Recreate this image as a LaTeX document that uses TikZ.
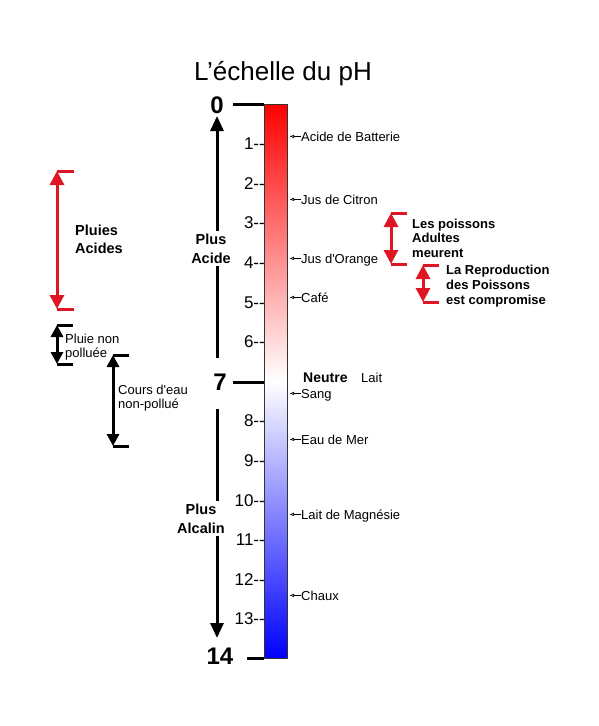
\documentclass[tikz,border=0pt]{standalone}
\usepackage{fontspec}
\setmainfont{Liberation Sans}
\newfontfamily\straight{Liberation Sans}
\usetikzlibrary{arrows.meta}
\definecolor{myred}{RGB}{222,22,35}
\begin{document}
\begin{tikzpicture}[x=1pt,y=-1pt,
  lbl/.style={anchor=base west,inner sep=0pt,font=\fontsize{13}{15}\selectfont},
  num/.style={anchor=base east,inner sep=0pt,font=\fontsize{17}{19}\selectfont},
  big/.style={inner sep=0pt,font=\fontsize{24}{26}\selectfont\bfseries},
  blk/.style={inner sep=0pt,anchor=north west,align=left},
  ptr/.style={-{Latex[open,length=4.5pt,width=3.5pt]},line width=0.6pt},
  tickline/.style={line width=3pt},
  bigarrow/.style={line width=3pt,-{Triangle[length=15pt,width=13pt]}},
  brk/.style={line width=3pt,{Triangle[length=12pt,width=12pt]}-{Triangle[length=12pt,width=12pt]}},
  redbrk/.style={line width=3pt,myred,{Triangle[length=14pt,width=14pt]}-{Triangle[length=14pt,width=14pt]}},
  capline/.style={line width=3pt},
  gap/.style={fill=white,inner sep=3pt,align=center,font=\fontsize{14.5}{19}\selectfont\bfseries}
]
\useasboundingbox (0,0) rectangle (599,726);

% title
\node[anchor=base,inner sep=0pt,font=\fontsize{26}{28}\selectfont] (title) at (283,80) {L’échelle du pH};

% bar
\shade[top color=red,bottom color=white] (264,104) rectangle (287,381);
\shade[top color=white,bottom color=blue] (264,381) rectangle (287,658);
\draw[line width=0.8pt,black!80] (264,104) rectangle (287,658);
\coordinate (b0) at (264,104);
\coordinate (b7) at (264,382);
\coordinate (b14) at (264,658);

% main values
\node[big] (n0) at (217,105) {0};
\node[big] (n7) at (220,382) {7};
\node[big] (n14) at (220,656) {14};
\coordinate (t0) at (233,104);
\coordinate (t7) at (233,382);
\coordinate (t14) at (247,658);
\draw[tickline] (t0) -- (b0);
\draw[tickline] (t7) -- (b7);
\draw[tickline] (t14) -- (b14);

% tick numbers
\foreach \n in {1,2,3,4,5,6,8,9,10,11,12,13}{
  \pgfmathsetmacro{\yy}{104+39.6*\n+6}
  \node[num] (tk\n) at (265,\yy) {\n-{}-};
}

% big arrows
\coordinate (ua) at (217,358);
\coordinate (ub) at (217,116);
\draw[bigarrow] (ua) -- (ub);
\node[gap] (acide) at (211,248.5) {Plus\\Acide};
\coordinate (da) at (217,409);
\coordinate (db) at (217,638);
\draw[bigarrow] (da) -- (db);
\node[gap] (alcalin) at (201,518.5) {Plus\\Alcalin};

% right labels
\foreach \nm/\yy/\txt in {bat/141/Acide de Batterie, cit/204/Jus de Citron, ora/263/{\straight Jus d'Orange}, caf/302/Café, san/398/Sang, mer/444/Eau de Mer, mag/519/Lait de Magnésie, cha/600/Chaux}{
  \node[lbl] (\nm) at (301,\yy) {\txt};
  \draw[ptr] (\nm.base west) ++(0,-4.6) coordinate (\nm s) -- ++(-11.5,0) coordinate (\nm e);
}
\node[lbl,font=\fontsize{14}{16}\selectfont\bfseries] (neutre) at (303,382) {Neutre};
\node[lbl] (lait) at (361,382) {Lait};

% red bracket: Pluies Acides
\coordinate (pa1) at (57,171);
\coordinate (pa2) at (57,309);
\draw[redbrk] (pa2) -- (pa1);
\draw[capline,myred] (pa1) -- ++(17,0);
\draw[capline,myred] (pa2) -- ++(17,0);
\node[blk,font=\fontsize{14.5}{18}\selectfont\bfseries] (pluies) at (75,224.5) {Pluies\\Acides};

% Pluie non polluee
\coordinate (pn1) at (57,325);
\coordinate (pn2) at (57,364);
\draw[brk] (pn2) -- (pn1);
\draw[capline] (pn1) -- ++(16,0);
\draw[capline] (pn2) -- ++(16,0);
\node[blk,font=\fontsize{13}{14}\selectfont] (pluie) at (65,333.5) {Pluie non\\polluée};

% Cours d'eau
\coordinate (ce1) at (113,355);
\coordinate (ce2) at (113,446);
\draw[brk] (ce2) -- (ce1);
\draw[capline] (ce1) -- ++(16,0);
\draw[capline] (ce2) -- ++(16,0);
\node[blk,font=\fontsize{13}{14}\selectfont\straight] (cours) at (118,384.5) {Cours d'eau\\non-pollué};

% Les poissons adultes
\coordinate (lp1) at (391,213);
\coordinate (lp2) at (391,264);
\draw[redbrk] (lp2) -- (lp1);
\draw[capline,myred] (lp1) -- ++(16,0);
\draw[capline,myred] (lp2) -- ++(16,0);
\node[blk,font=\fontsize{13}{14.5}\selectfont\bfseries] (poissons) at (412,218.5) {Les poissons\\Adultes\\meurent};

% La reproduction
\coordinate (rp1) at (423,265);
\coordinate (rp2) at (423,302);
\draw[redbrk] (rp2) -- (rp1);
\draw[capline,myred] (rp1) -- ++(16,0);
\draw[capline,myred] (rp2) -- ++(16,0);
\node[blk,font=\fontsize{13}{15}\selectfont\bfseries] (repro) at (446,264.5) {La Reproduction\\des Poissons\\est compromise};
\end{tikzpicture}
\end{document}
